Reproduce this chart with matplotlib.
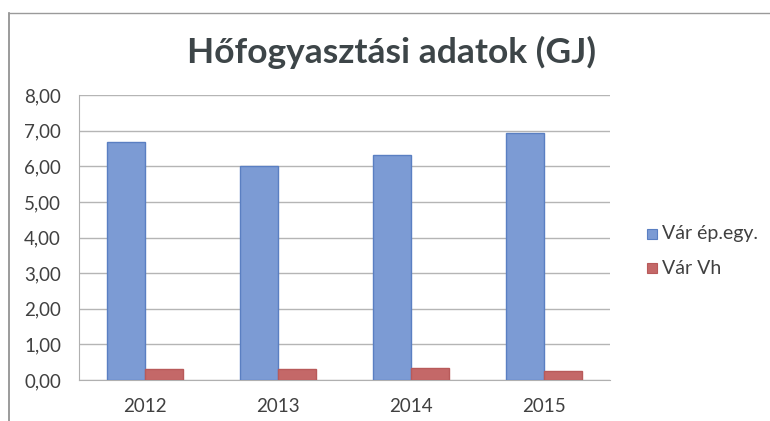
import matplotlib
matplotlib.use("Agg")
import matplotlib.pyplot as plt
import numpy as np
from matplotlib.patches import Rectangle
from matplotlib.lines import Line2D

years = ["2012", "2013", "2014", "2015"]
var_ep_egy = [6.69, 6.01, 6.31, 6.93]
var_vh = [0.30, 0.30, 0.34, 0.24]
series_names = ["Vár ép.egy.", "Vár Vh"]
yticks = [0, 1, 2, 3, 4, 5, 6, 7, 8]
title = "Hőfogyasztási adatok (GJ)"

plt.rcParams['font.family'] = ['Lato', 'DejaVu Sans']

W, H = 770, 421
fig = plt.figure(figsize=(W / 100, H / 100), dpi=100)
fig.patch.set_facecolor("white")

# chart frame (scanned border)
fig.add_artist(Line2D([9 / W, 9 / W], [0, 1 - 13 / H], transform=fig.transFigure, color="#8a8a8a", lw=1.2))
fig.add_artist(Line2D([9 / W, 1.0], [1 - 13 / H, 1 - 13 / H], transform=fig.transFigure, color="#9a9a9a", lw=1.0))

ax = fig.add_axes([79 / W, 1 - 380 / H, (610 - 79) / W, (380 - 95) / H])
x = np.arange(len(years))
bw = 0.286
blue_fill, blue_edge = "#7c9bd4", "#5a7fc2"
red_fill, red_edge = "#c46868", "#b85a5a"
ax.bar(x - bw / 2, var_ep_egy, width=bw, color=blue_fill, edgecolor=blue_edge, linewidth=1.0, zorder=3)
ax.bar(x + bw / 2, var_vh, width=bw, color=red_fill, edgecolor=red_edge, linewidth=1.0, zorder=3)

ax.set_xlim(-0.5, len(years) - 0.5)
ax.set_ylim(0, 8)
ax.set_yticks(yticks)
ax.set_yticklabels([f"{v:.2f}".replace(".", ",") for v in yticks], fontsize=13.5, color="#404040")
ax.set_xticks(x)
ax.set_xticklabels(years, fontsize=13.5, color="#404040")
ax.tick_params(axis="y", length=0, pad=13)
ax.tick_params(axis="x", length=0, pad=13)
ax.yaxis.grid(True, color="#b5b5b5", lw=1.0, zorder=0)
for s in ["top", "right"]:
    ax.spines[s].set_visible(False)
ax.spines["left"].set_color("#b0b0b0")
ax.spines["bottom"].set_color("#b0b0b0")

fig.text(392 / W, 1 - 52 / H, title, ha="center", va="center", fontsize=25.5, fontweight="bold", color="#3d4548")

# legend
for i, (name, col, ec) in enumerate(zip(series_names, [blue_fill, red_fill], [blue_edge, red_edge])):
    yc = 234 + i * 34
    fig.add_artist(Rectangle((647 / W, 1 - (yc + 5) / H), 10 / W, 10 / H, transform=fig.transFigure,
                             facecolor=col, edgecolor=ec, lw=0.8))
    fig.text(662 / W, 1 - yc / H, name, ha="left", va="center", fontsize=14, color="#404040")

fig.savefig("out.png", dpi=100)
